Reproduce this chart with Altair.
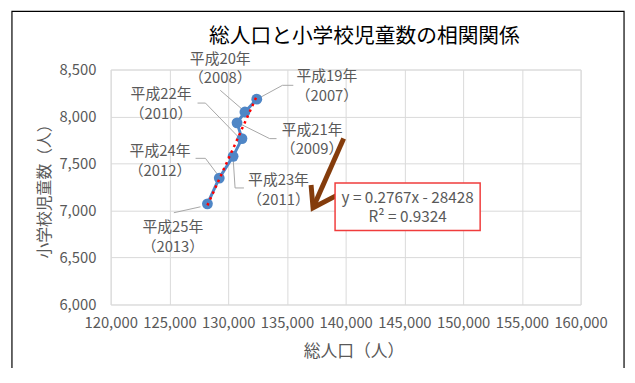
import altair as alt
import pandas as pd

# ---------------- data ----------------
years = [2007, 2008, 2009, 2010, 2011, 2012, 2013]
heisei = ["平成19年", "平成20年", "平成21年", "平成22年", "平成23年", "平成24年", "平成25年"]
year_labels = ["（2007）", "（2008）", "（2009）", "（2010）", "（2011）", "（2012）", "（2013）"]
population = [132437, 131428, 130756, 131176, 130420, 129243, 128235]
students = [8185, 8048, 7933, 7765, 7576, 7345, 7071]

slope = 0.2767
intercept = -28428
eq_line1 = "y = 0.2767x - 28428"
eq_line2 = "R² = 0.9324"

x_ticks = [120000, 125000, 130000, 135000, 140000, 145000, 150000, 155000, 160000]
y_ticks = [6000, 6500, 7000, 7500, 8000, 8500]

chart_title = "総人口と小学校児童数の相関関係"
x_title = "総人口（人）"
y_title = "小学校児童数（人）"

# ---------------- layout (pixels) ----------------
W, H = 476, 238
XMIN, XMAX = x_ticks[0], x_ticks[-1]
YMIN, YMAX = y_ticks[0], y_ticks[-1]
UX = (XMAX - XMIN) / W   # data units per px
UY = (YMAX - YMIN) / H

# label first-line centre offset from its point (px); second line 20px lower
label_offsets = [(71, -23), (-25, -54), (76, 7), (-82, -45), (46, 24), (-60, -27), (-35, 24)]
line_gap = 20
# leader-line polylines, offsets from the point (px)
leaders = [
    [(4, -2), (26, -14), (37, -14)],
    [(-3, -3), (-25, -22)],
    [(3, 1), (33, 16), (40, 16)],
    [(-3, -1), (-37, -36), (-45, -36)],
    [(0, 1), (2, 32), (11, 32)],
    [(-2, -4), (-14, -20), (-24, -20)],
    [(-7, 3), (-34, 9)],
]
# annotation: arrow (data coords) and equation box (data coords)
arrow_shaft = [(139831, 7765), (137226, 7029)]
arrow_head = [(137058, 7271), (137226, 7029), (139327, 7166)]
eq_box = (139100, 151450, 7292, 6788)
eq_text_x = 145275
eq_text_y = [7134, 6935]

GRAY = "#595959"
BLUE = "#4F86C6"
FONT = "Noto Sans CJK JP"

# ---------------- tables ----------------
pts = pd.DataFrame({"year": years, "pop": population, "stu": students})

lab_rows = []
for i in range(len(years)):
    dx, dy = label_offsets[i]
    for k, txt in enumerate([heisei[i], year_labels[i]]):
        lab_rows.append({
            "text": txt,
            "x": population[i] + dx * UX,
            "y": students[i] - (dy + k * line_gap) * UY,
        })
labels = pd.DataFrame(lab_rows)

lead_rows = []
for i in range(len(years)):
    for j, (dx, dy) in enumerate(leaders[i]):
        lead_rows.append({"id": years[i], "o": j,
                          "x": population[i] + dx * UX,
                          "y": students[i] - dy * UY})
lead = pd.DataFrame(lead_rows)

xmin_d, xmax_d = min(population), max(population)
trend = pd.DataFrame({"x": [xmin_d, xmax_d],
                      "y": [slope * xmin_d + intercept, slope * xmax_d + intercept]})

shaft = pd.DataFrame({"x": [arrow_shaft[0][0]], "y": [arrow_shaft[0][1]],
                      "x2": [arrow_shaft[1][0]], "y2": [arrow_shaft[1][1]]})
head = pd.DataFrame({"o": [0, 1, 2], "x": [p[0] for p in arrow_head], "y": [p[1] for p in arrow_head]})
box = pd.DataFrame({"x": [eq_box[0]], "x2": [eq_box[1]], "y": [eq_box[2]], "y2": [eq_box[3]]})
eqt = pd.DataFrame({"x": [eq_text_x, eq_text_x], "y": eq_text_y, "text": [eq_line1, eq_line2]})

xs = alt.Scale(domain=[XMIN, XMAX], nice=False, zero=False)
ys = alt.Scale(domain=[YMIN, YMAX], nice=False, zero=False)

x_axis = alt.Axis(values=x_ticks, format=",.0f", title=x_title, grid=True, gridColor="#d9d9d9",
                  domain=False, ticks=False, tickSize=0, labelPadding=11, labelColor=GRAY,
                  labelFontSize=15, labelFont=FONT, labelOverlap=False, labelFlush=False,
                  labelBound=False, titleFont=FONT, titleFontSize=17,
                  titleColor=GRAY, titleFontWeight="normal", titleX=246, titleY=48,
                  titleBaseline="middle", titleAlign="center")
y_axis = alt.Axis(values=y_ticks, format=",.0f", title=y_title, grid=True, gridColor="#d9d9d9",
                  domain=False, ticks=False, tickSize=0, labelPadding=15, labelColor=GRAY,
                  labelFontSize=15, labelFont=FONT, labelOverlap=False, labelFlush=False,
                  labelBound=False, titleFont=FONT, titleFontSize=16,
                  titleColor=GRAY, titleFontWeight="normal", titleX=-67, titleY=119,
                  titleAngle=-90, titleBaseline="middle", titleAlign="center")

frame = alt.Chart(pd.DataFrame({"a": [0]})).mark_rect(
    fillOpacity=0, stroke="#000000", strokeWidth=1.2
).encode(x=alt.value(-100), x2=alt.value(520), y=alt.value(-59), y2=alt.value(420))

leader_layer = alt.Chart(lead).mark_line(color="#a6a6a6", strokeWidth=1).encode(
    x=alt.X("x:Q", scale=xs, axis=x_axis),
    y=alt.Y("y:Q", scale=ys, axis=y_axis),
    detail="id:N", order="o:Q")

series_line = alt.Chart(pts).mark_line(color=BLUE, strokeWidth=3).encode(
    x=alt.X("pop:Q", scale=xs, axis=x_axis), y=alt.Y("stu:Q", scale=ys, axis=y_axis), order="year:Q")

points = alt.Chart(pts).mark_point(filled=True, color=BLUE, size=120, opacity=1).encode(
    x=alt.X("pop:Q", scale=xs, axis=x_axis), y=alt.Y("stu:Q", scale=ys, axis=y_axis))

trend_line = alt.Chart(trend).mark_line(color="#FF0000", strokeWidth=2.5, strokeDash=[2.5, 4]).encode(
    x=alt.X("x:Q", scale=xs, axis=x_axis), y=alt.Y("y:Q", scale=ys, axis=y_axis))

arrow_s = alt.Chart(shaft).mark_rule(color="#843C0C", strokeWidth=5).encode(
    x=alt.X("x:Q", scale=xs, axis=x_axis), y=alt.Y("y:Q", scale=ys, axis=y_axis), x2="x2:Q", y2="y2:Q")
arrow_h = alt.Chart(head).mark_line(color="#843C0C", strokeWidth=5, strokeJoin="miter").encode(
    x=alt.X("x:Q", scale=xs, axis=x_axis), y=alt.Y("y:Q", scale=ys, axis=y_axis), order="o:Q")

box_layer = alt.Chart(box).mark_rect(fill="white", stroke="#F03C3C", strokeWidth=1.5).encode(
    x=alt.X("x:Q", scale=xs, axis=x_axis), x2="x2:Q", y=alt.Y("y:Q", scale=ys, axis=y_axis), y2="y2:Q")
eq_layer = alt.Chart(eqt).mark_text(font=FONT, fontSize=15.5, color=GRAY, baseline="middle").encode(
    x=alt.X("x:Q", scale=xs, axis=x_axis), y=alt.Y("y:Q", scale=ys, axis=y_axis), text="text:N")

label_layer = alt.Chart(labels).mark_text(font=FONT, fontSize=15, color=GRAY, baseline="middle").encode(
    x=alt.X("x:Q", scale=xs, axis=x_axis), y=alt.Y("y:Q", scale=ys, axis=y_axis), text="text:N")

chart = alt.layer(
    frame, leader_layer, series_line, points, trend_line, arrow_s, arrow_h, box_layer, eq_layer, label_layer
).properties(
    width=W, height=H,
    autosize="none",
    padding={"left": 104, "top": 60, "right": 47, "bottom": 62},
    title=alt.TitleParams(chart_title, font=FONT, fontSize=21, fontWeight="normal", color="#000000",
                          anchor="middle", frame="group", dx=19, offset=-37),
).configure_view(stroke=None).configure(background="white")

chart.save("out.html", embed_options={"renderer": "svg", "actions": False})
